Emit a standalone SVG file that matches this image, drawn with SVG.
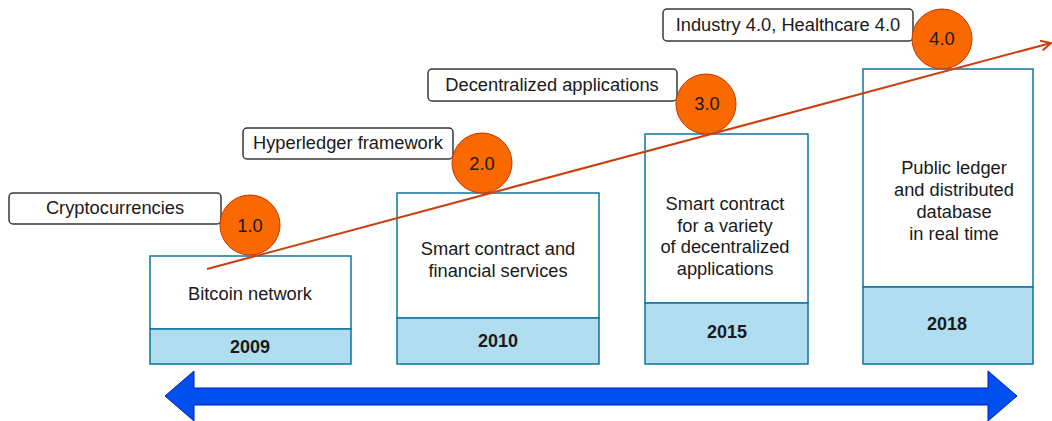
<svg xmlns="http://www.w3.org/2000/svg" width="1052" height="421" viewBox="0 0 1052 421">
  <style>
    text { font-family: "Liberation Sans", Arial, sans-serif; fill: #1a1a1a; text-anchor: middle; }
    .t { font-size: 18.3px; }
    .yr { font-size: 18px; font-weight: bold; }
    .box { fill: #ffffff; stroke: #10739e; stroke-width: 1.5; }
    .band { fill: #b1ddf0; stroke: #10739e; stroke-width: 1.5; }
    .tag { fill: #ffffff; stroke: #36393d; stroke-width: 1.5; }
    .dot { fill: #fa6800; stroke: #c73500; stroke-width: 1; }
  </style>
  <defs>
    <marker id="open" viewBox="0 0 12 12" refX="11" refY="6" markerWidth="12" markerHeight="12" markerUnits="userSpaceOnUse" orient="auto">
      <path d="M1,1 L11,6 L1,11" fill="none" stroke="#cc4010" stroke-width="2"/>
    </marker>
  </defs>

  <rect width="1052" height="421" fill="#ffffff"/>

  <!-- milestone boxes -->
  <g id="era-2009">
    <rect class="box" x="150" y="256" width="201" height="73"/>
    <rect class="band" x="150" y="329" width="201" height="35"/>
    <text class="t" x="250" y="300">Bitcoin network</text>
    <text class="yr" x="250" y="353">2009</text>
  </g>
  <g id="era-2010">
    <rect class="box" x="397" y="193" width="202" height="125"/>
    <rect class="band" x="397" y="318" width="202" height="46"/>
    <text class="t" x="498" y="255">Smart contract and</text>
    <text class="t" x="498" y="277">financial services</text>
    <text class="yr" x="498" y="347">2010</text>
  </g>
  <g id="era-2015">
    <rect class="box" x="645" y="134" width="163" height="169"/>
    <rect class="band" x="645" y="303" width="163" height="61"/>
    <text class="t" x="725" y="210">Smart contract</text>
    <text class="t" x="725" y="232">for a variety</text>
    <text class="t" x="725" y="253">of decentralized</text>
    <text class="t" x="725" y="275">applications</text>
    <text class="yr" x="727" y="338">2015</text>
  </g>
  <g id="era-2018">
    <rect class="box" x="863" y="69" width="170" height="218"/>
    <rect class="band" x="863" y="287" width="170" height="77"/>
    <text class="t" x="954" y="174">Public ledger</text>
    <text class="t" x="954" y="196">and distributed</text>
    <text class="t" x="954" y="218">database</text>
    <text class="t" x="954" y="240">in real time</text>
    <text class="yr" x="947" y="330">2018</text>
  </g>

  <!-- generation labels -->
  <g id="label-crypto">
    <rect class="tag" x="9" y="193" width="212" height="31" rx="4"/>
    <text class="t" x="115" y="214">Cryptocurrencies</text>
  </g>
  <g id="label-hyperledger">
    <rect class="tag" x="243" y="128" width="210" height="31" rx="4"/>
    <text class="t" x="348" y="149">Hyperledger framework</text>
  </g>
  <g id="label-dapps">
    <rect class="tag" x="428" y="69" width="249" height="32" rx="4"/>
    <text class="t" x="552" y="91">Decentralized applications</text>
  </g>
  <g id="label-industry">
    <rect class="tag" x="663" y="9" width="250" height="32" rx="4"/>
    <text class="t" x="788" y="31">Industry 4.0, Healthcare 4.0</text>
  </g>

  <!-- generation markers -->
  <g id="gen-1">
    <circle class="dot" cx="250" cy="225" r="30"/>
    <text class="t" x="250" y="232">1.0</text>
  </g>
  <g id="gen-2">
    <circle class="dot" cx="482" cy="163" r="30"/>
    <text class="t" x="482" y="170">2.0</text>
  </g>
  <g id="gen-3">
    <circle class="dot" cx="706" cy="104" r="30"/>
    <text class="t" x="707" y="110">3.0</text>
  </g>
  <g id="gen-4">
    <circle class="dot" cx="942" cy="39" r="30"/>
    <text class="t" x="942" y="45">4.0</text>
  </g>

  <!-- connectors -->
  <g id="connectors">
    <line x1="207" y1="269" x2="1051" y2="43" stroke="#cc4010" stroke-width="2" marker-end="url(#open)"/>
    <path d="M165,396 L194,371 L194,388 L988,388 L988,371 L1017,396 L988,421 L988,405 L194,405 L194,421 Z" fill="#0050ef" stroke="#001dbc" stroke-width="1"/>
  </g>
</svg>
